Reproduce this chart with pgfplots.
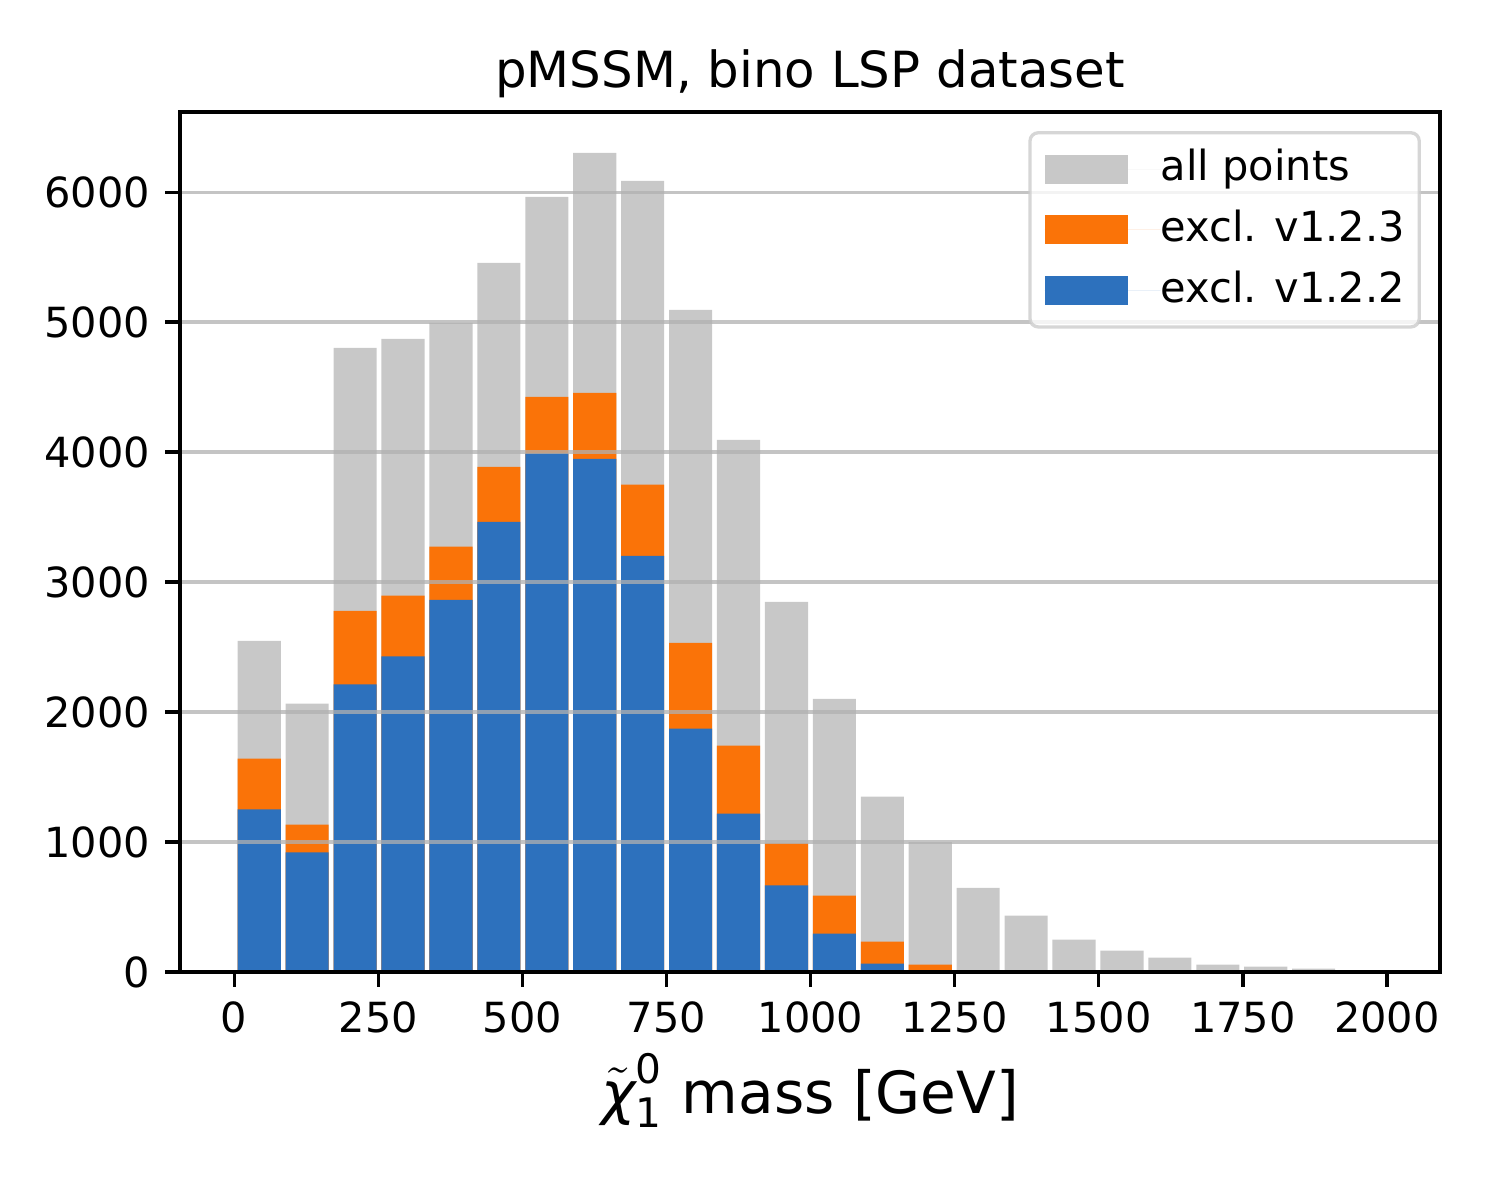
\documentclass[border=0pt]{standalone}
\usepackage{fontspec}
\setmainfont{DejaVu Sans}
\usepackage{amsmath}
\usepackage{pgfplots}
\pgfplotsset{compat=1.18}
\usepackage{pgfplotstable}

\definecolor{cgray}{RGB}{200,200,200}
\definecolor{corange}{RGB}{250,115,8}
\definecolor{cblue}{RGB}{45,113,189}
\definecolor{cgrid}{RGB}{176,176,176}
\definecolor{clegend}{RGB}{204,204,204}

\pgfplotstableread{
x       all   vb   va
43.5    2548  1641 1251
126.65  2064  1133 920
209.8   4802  2779 2213
292.95  4871  2895 2428
376.1   4995  3272 2864
459.25  5456  3887 3464
542.4   5964  4426 3990
625.55  6302  4456 3948
708.7   6087  3749 3202
791.85  5094  2533 1872
875.0   4095  1741 1218
958.15  2848  990  666
1041.3  2102  587  295
1124.45 1350  233  64
1207.6  1000  56   0
1290.75 648   0    0
1373.9  433   0    0
1457.05 249   0    0
1540.2  164   0    0
1623.35 110   0    0
1706.5  56    0    0
1789.65 41    0    0
1872.8  26    0    0
1955.95 3     0    0
}\histdata

\begin{document}
\begin{tikzpicture}
\begin{axis}[
  at={(0,0)}, anchor=south west,
  scale only axis,
  width=4.2in, height=2.86667in,
  xmin=-94, xmax=2092,
  ymin=0, ymax=6617,
  xtick={0,250,...,2000},
  ytick={0,1000,...,6000},
  scaled ticks=false,
  /pgf/number format/assume math mode=true,
  /pgf/number format/1000 sep={},
  tick label style={font=\fontsize{10}{12}\selectfont, inner sep=3.5pt},
  tick align=outside,
  tick pos=left,
  major tick length=3.5pt,
  tick style={line width=0.8pt, black},
  axis line style={line width=0.8pt, black},
  axis on top,
  ymajorgrids,
  major grid style={line width=0.8pt, color=cgrid, opacity=0.75},
  title={pMSSM, bino LSP dataset},
  title style={font=\fontsize{12}{14.4}\selectfont, at={(axis description cs:0.5,1)}, anchor=base, yshift=0pt, inner sep=0pt},
  xlabel={$\tilde{\text{\itshape χ}}^{\text{0}}_{\text{1}}$ mass [GeV]},
  xlabel style={font=\fontsize{14}{16.8}\selectfont, at={(axis description cs:0.5,0)}, anchor=base, yshift=-34pt, inner sep=0pt},
  legend image code/.code={\fill[#1, fill opacity=1, sharp corners] (0pt,-3.5pt) rectangle (20pt,3.5pt); \path (0pt,0pt) -- (28pt,0pt);},
  legend style={
    at={(axis description cs:1,1)}, anchor=north east, xshift=-5pt, yshift=-5pt,
    draw=clegend, line width=0.8pt, fill=white, fill opacity=0.8, draw opacity=0.8, text opacity=1,
    rounded corners=2pt, inner xsep=3.5pt, inner ysep=4pt, outer sep=0pt,
    font=\fontsize{10}{12}\selectfont,
    row sep=5.14pt, column sep=0pt,
    nodes={inner sep=0pt, text height=7.5pt, text depth=2pt, anchor=west, fill=none, draw=none},
  },
  legend cell align=left,
]
\addplot[ybar, bar shift=0pt, bar width=74.8, draw=none, fill=cgray, forget plot] table[x=x, y=all] {\histdata};
\addplot[ybar, bar shift=0pt, bar width=74.8, draw=none, fill=corange, forget plot] table[x=x, y=vb] {\histdata};
\addplot[ybar, bar shift=0pt, bar width=74.8, draw=none, fill=cblue, forget plot] table[x=x, y=va] {\histdata};

\addlegendimage{draw=none, fill=cgray}
\addlegendentry{all points}
\addlegendimage{draw=none, fill=corange}
\addlegendentry{excl. v1.2.3}
\addlegendimage{draw=none, fill=cblue}
\addlegendentry{excl. v1.2.2}
\end{axis}
\pgfresetboundingbox
\path[use as bounding box] (-0.6in,-0.76in) rectangle (4.4in,3.24in);
\end{tikzpicture}
\end{document}
